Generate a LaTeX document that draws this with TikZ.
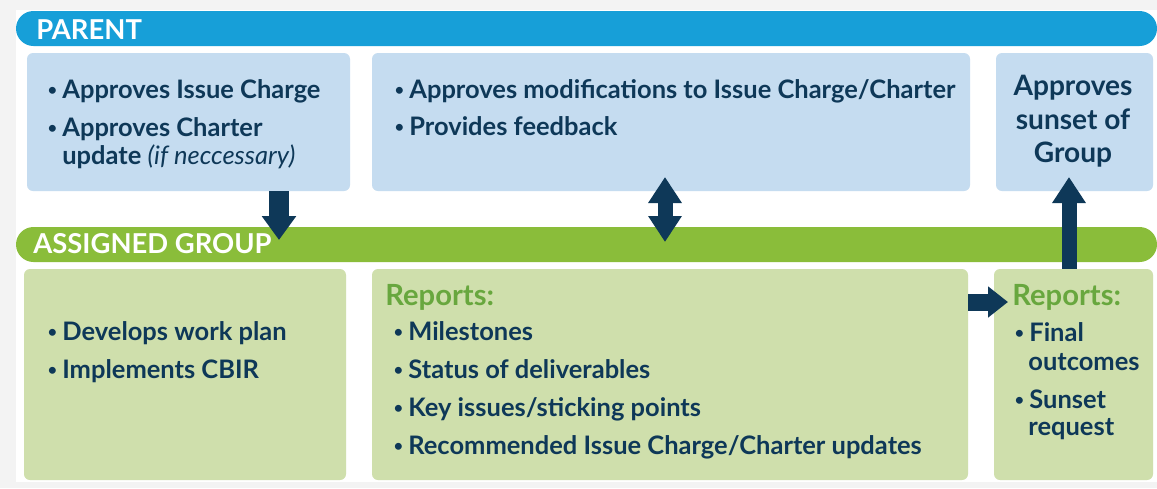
\documentclass[tikz,border=0pt]{standalone}
\usepackage{fontspec}
\setmainfont{Lato}
\usetikzlibrary{arrows.meta,fit}
\definecolor{bggray}{RGB}{243,243,243}
\definecolor{pblue}{RGB}{23,159,216}
\definecolor{agreen}{RGB}{138,189,58}
\definecolor{lblue}{RGB}{197,220,240}
\definecolor{lgreen}{RGB}{207,223,172}
\definecolor{navy}{RGB}{14,56,88}
\definecolor{rgreen}{RGB}{104,167,62}
\newcommand{\bul}{\makebox[0.32cm][l]{\hspace{0.03cm}\raisebox{0.05cm}{\fontsize{9}{9}\selectfont\textbullet}}}
\tikzset{
  pbar/.style={fill=pblue,rounded corners=0.35cm,inner sep=0pt},
  gbar/.style={fill=agreen,rounded corners=0.35cm,inner sep=0pt},
  pbox/.style={fill=lblue,rounded corners=0.12cm,inner sep=0pt},
  gbox/.style={fill=lgreen,rounded corners=0.12cm,inner sep=0pt},
  ttl/.style={anchor=base west,inner sep=0pt,text=white,font=\fontsize{15.6}{18}\selectfont\bfseries},
  ln/.style={anchor=base west,inner sep=0pt,text=navy,font=\fontsize{14.5}{17}\selectfont\bfseries},
  lnc/.style={ln,anchor=base,font=\fontsize{16}{19}\selectfont\bfseries},
  rep/.style={ln,text=rgreen,font=\fontsize{16.6}{19}\selectfont\bfseries},
  arrdown/.style={draw=navy,line width=0.4cm,-{Triangle[length=0.48cm,width=0.66cm]}},
  arrup/.style={draw=navy,line width=0.3cm,-{Triangle[length=0.52cm,width=0.64cm]}},
  arrboth/.style={draw=navy,line width=0.3cm,{Triangle[length=0.52cm,width=0.64cm]}-{Triangle[length=0.52cm,width=0.64cm]}},
  arrright/.style={draw=navy,line width=0.34cm,-{Triangle[length=0.4cm,width=0.6cm]}},
}

\begin{document}
\begin{tikzpicture}[x=0.02cm,y=-0.02cm]
\fill[bggray] (0,0) rectangle (1157,488);
\fill[white] (16,10) rectangle (1157,482);
\node[pbar,fit={(16,11) (1157,46)}] (parent) {};
\node[gbar,fit={(16,227) (1157,262)}] (group) {};
\node[pbox,fit={(27,53) (350,191)}] (pa) {};
\node[pbox,fit={(372,53) (970,191)}] (pb) {};
\node[pbox,fit={(996,53) (1153,191)}] (pc) {};
\node[gbox,fit={(24,269) (346,480)}] (ga) {};
\node[gbox,fit={(372,269) (968,480)}] (gb) {};
\node[gbox,fit={(994,269) (1153,480)}] (gc) {};
\node[ttl] (tparent) at (36,39) {PARENT};
\node[ttl] (tgroup) at (33,253) {ASSIGNED GROUP};
\node[ln] (pa1) at (46,98) {\bul Approves Issue Charge};
\node[ln] (pa2) at (46,136) {\bul Approves Charter};
\node[ln] (pa3) at (62,164) {update {\mdseries\itshape (if neccessary)}};
\node[ln] (pb1) at (393,98) {\bul Approves modifications to Issue Charge/Charter};
\node[ln] (pb2) at (393,135) {\bul Provides feedback};
\node[lnc] (pc1) at (1073,95) {Approves};
\node[lnc] (pc2) at (1073,129) {sunset of};
\node[lnc] (pc3) at (1073,162) {Group};
\node[ln] (ga1) at (46,340) {\bul Develops work plan};
\node[ln] (ga2) at (46,378) {\bul Implements CBIR};
\node[rep] (gb0) at (385,305) {Reports:};
\node[ln] (gb1) at (392,340) {\bul Milestones};
\node[ln] (gb2) at (392,378) {\bul Status of deliverables};
\node[ln] (gb3) at (392,416) {\bul Key issues/sticking points};
\node[ln] (gb4) at (392,454) {\bul Recommended Issue Charge/Charter updates};
\node[rep] (gc0) at (1012,305) {Reports:};
\node[ln] (gc1) at (1013,341) {\bul Final};
\node[ln] (gc2) at (1028,370) {outcomes};
\node[ln] (gc3) at (1013,408) {\bul Sunset};
\node[ln] (gc4) at (1028,435) {request};
\coordinate (tipa) at (279,240);
\coordinate (fbtop) at (665,177);
\coordinate (fbbot) at (665,242);
\coordinate (tipc) at (1069,177);
\coordinate (tipr) at (1008,302);
\draw[arrdown] (pa.south -| tipa) -- (tipa);
\draw[arrboth] (fbtop) -- (fbbot);
\draw[arrup] (gc.north -| tipc) -- (tipc);
\draw[arrright] (gb.east |- tipr) -- (tipr);
\end{tikzpicture}
\end{document}
